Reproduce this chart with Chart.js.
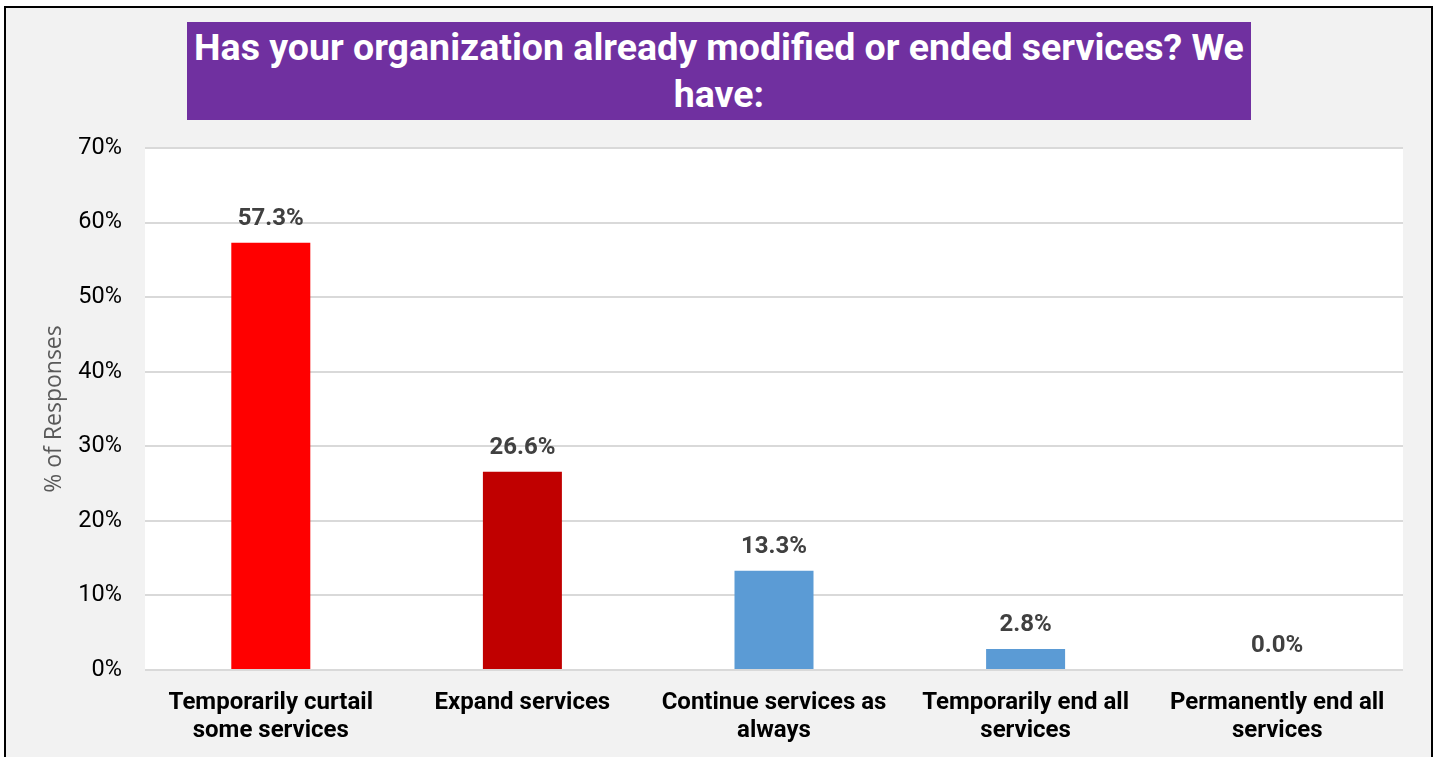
<!DOCTYPE html>
<html>
<head>
<meta charset="utf-8">
<script src="https://cdn.jsdelivr.net/npm/chart.js@4"></script>
<style>
  html, body { margin: 0; padding: 0; background: #ffffff; overflow: hidden; }
  #frame {
    position: absolute; left: 4px; top: 6px; width: 1425px; height: 800px;
    border: 2px solid #000000; background: #f2f2f2;
  }
  #heading {
    position: absolute; left: 187px; top: 22px; width: 1064px; height: 98px;
    background: #7030a0; color: #ffffff; text-align: center;
    font: bold 37.5px Roboto, sans-serif; line-height: 47px;
    display: flex; align-items: center; justify-content: center; z-index: 2;
  }
  #heading span { display: block; width: 1064px; }
  #wrap { position: absolute; left: 0; top: 0; width: 1438px; height: 757px; z-index: 1; }
</style>
</head>
<body>
<div id="frame"></div>
<div id="heading"><span>Has your organization already modified or ended services? We<br>have:</span></div>
<div id="wrap"><canvas id="chart" width="1438" height="757"></canvas></div>
<script>
// Survey answers and the share of responses for each
const categories = [
  ["Temporarily curtail", "some services"],
  ["Expand services"],
  ["Continue services as", "always"],
  ["Temporarily end all", "services"],
  ["Permanently end all", "services"]
];
const responseShare = [57.3, 26.6, 13.3, 2.8, 0.0];
const barColors = ["#ff0000", "#c00000", "#5b9bd5", "#5b9bd5", "#5b9bd5"];
const yTicks = [0, 10, 20, 30, 40, 50, 60, 70];

// White plot background behind the bars
const plotBackground = {
  id: 'plotBackground',
  beforeDraw(chart) {
    const { ctx, chartArea: a } = chart;
    ctx.save();
    ctx.fillStyle = '#ffffff';
    ctx.fillRect(a.left, a.top, a.right - a.left, a.bottom - a.top);
    ctx.restore();
  }
};

// Value labels above each bar
const valueLabels = {
  id: 'valueLabels',
  afterDatasetsDraw(chart) {
    const { ctx } = chart;
    const meta = chart.getDatasetMeta(0);
    const values = chart.data.datasets[0].data;
    ctx.save();
    ctx.font = 'bold 24px Roboto, sans-serif';
    ctx.fillStyle = '#404040';
    ctx.textAlign = 'center';
    ctx.textBaseline = 'middle';
    meta.data.forEach((bar, i) => {
      ctx.fillText(values[i].toFixed(1) + '%', bar.x, bar.y - 24);
    });
    ctx.restore();
  }
};

new Chart(document.getElementById('chart'), {
  type: 'bar',
  data: {
    labels: categories,
    datasets: [{
      data: responseShare,
      backgroundColor: barColors,
      borderWidth: 0,
      categoryPercentage: 1.0,
      barPercentage: 0.314
    }]
  },
  options: {
    responsive: false,
    animation: false,
    layout: { padding: { top: 148, right: 35, bottom: 0, left: 0 } },
    plugins: {
      legend: { display: false },
      tooltip: { enabled: false },
      title: { display: false }
    },
    scales: {
      x: {
        grid: { display: false, drawTicks: false },
        border: { display: false },
        ticks: {
          color: '#000000',
          font: { family: 'Roboto, sans-serif', size: 24, weight: 'bold', lineHeight: 1.17 },
          padding: 19,
          maxRotation: 0,
          autoSkip: false
        },
        afterFit(scale) { scale.height = 87; }
      },
      y: {
        min: 0,
        max: 70,
        afterBuildTicks(scale) { scale.ticks = yTicks.map(v => ({ value: v })); },
        grid: { color: '#d9d9d9', lineWidth: 2, drawTicks: false },
        border: { display: false },
        ticks: {
          color: '#000000',
          font: { family: 'Roboto, sans-serif', size: 23.5 },
          padding: 23,
          callback: v => v + '%'
        },
        title: {
          display: true,
          text: '% of Responses',
          color: '#595959',
          font: { family: '"Open Sans", sans-serif', size: 23 },
          padding: { top: 41, bottom: 0 }
        },
        afterFit(scale) { scale.width = 145; }
      }
    }
  },
  plugins: [plotBackground, valueLabels]
});
</script>
</body>
</html>
